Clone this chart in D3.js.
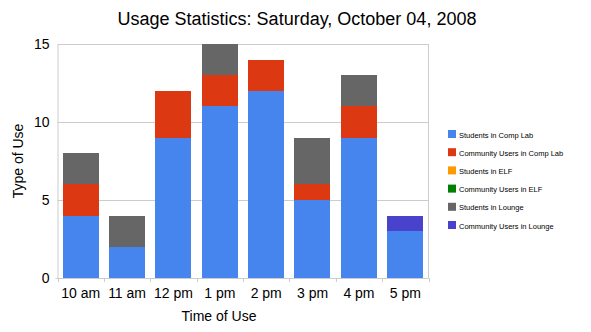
<!DOCTYPE html>
<html>
<head>
<meta charset="utf-8">
<script src="https://cdn.jsdelivr.net/npm/d3@7"></script>
<style>
  body { margin: 0; background: #fff; }
  text { font-family: Arial, "Liberation Sans", sans-serif; fill: #000; }
</style>
</head>
<body>
<svg id="chart" width="591" height="332"></svg>
<script>
const categories = ["10 am", "11 am", "12 pm", "1 pm", "2 pm", "3 pm", "4 pm", "5 pm"];
const seriesNames = ["Students in Comp Lab", "Community Users in Comp Lab", "Students in ELF",
                     "Community Users in ELF", "Students in Lounge", "Community Users in Lounge"];
const seriesColors = ["#4684ee", "#dc3912", "#ff9900", "#008000", "#666666", "#4942cc"];
const studentsCompLab  = [4, 2, 9, 11, 12, 5, 9, 3];
const communityCompLab = [2, 0, 3, 2, 2, 1, 2, 0];
const studentsELF      = [0, 0, 0, 0, 0, 0, 0, 0];
const communityELF     = [0, 0, 0, 0, 0, 0, 0, 0];
const studentsLounge   = [2, 2, 0, 2, 0, 3, 2, 0];
const communityLounge  = [0, 0, 0, 0, 0, 0, 0, 1];
const yTicks = [0, 5, 10, 15];

const seriesValues = [studentsCompLab, communityCompLab, studentsELF, communityELF, studentsLounge, communityLounge];
const rows = categories.map((c, i) => {
  const r = { cat: c };
  seriesNames.forEach((s, j) => r[s] = seriesValues[j][i]);
  return r;
});

const svg = d3.select("#chart");
const m = { left: 57.5, right: 428.5, top: 44, bottom: 278 };

const x = d3.scaleBand().domain(categories).range([m.left, m.right]).paddingInner(0.22).paddingOuter(0.11);
const y = d3.scaleLinear().domain([0, 15]).range([m.bottom, m.top]);

// grid lines
svg.append("g").selectAll("line").data(yTicks.filter(d => d > 0)).join("line")
  .attr("x1", m.left).attr("x2", m.right)
  .attr("y1", d => Math.round(y(d)) + 0.5).attr("y2", d => Math.round(y(d)) + 0.5)
  .attr("stroke", "#cccccc");
svg.append("line").attr("x1", m.right).attr("x2", m.right).attr("y1", m.top).attr("y2", m.bottom)
  .attr("stroke", "#cccccc");

// stacked bars
const stack = d3.stack().keys(seriesNames)(rows);
svg.append("g").selectAll("g").data(stack).join("g")
  .attr("fill", (d, i) => seriesColors[i])
  .selectAll("rect").data(d => d.filter(p => p[1] > p[0])).join("rect")
  .attr("x", p => Math.round(x(p.data.cat)))
  .attr("width", Math.round(x.bandwidth()))
  .attr("y", p => Math.round(y(p[1])))
  .attr("height", p => Math.round(y(p[0])) - Math.round(y(p[1])));

// y axis
const yAxis = d3.axisLeft(y).tickValues(yTicks).tickSize(0).tickPadding(8);
const gy = svg.append("g").attr("transform", `translate(${m.left},0)`).call(yAxis);
gy.select(".domain").attr("stroke", "#cccccc");
gy.selectAll("text").attr("font-size", 14).attr("fill", "#000");

// x axis with ticks at band boundaries
svg.append("line").attr("x1", m.left - 2).attr("x2", m.right).attr("y1", m.bottom + 0.5).attr("y2", m.bottom + 0.5)
  .attr("stroke", "#cccccc");
const bounds = d3.range(categories.length + 1).map(i => m.left + (m.right - m.left) * i / categories.length);
svg.append("g").selectAll("line").data(bounds).join("line")
  .attr("x1", d => Math.round(d) + 0.5).attr("x2", d => Math.round(d) + 0.5)
  .attr("y1", m.bottom).attr("y2", m.bottom + 4)
  .attr("stroke", "#cccccc");
svg.append("g").selectAll("text").data(categories).join("text")
  .attr("x", d => x(d) + x.bandwidth() / 2)
  .attr("y", m.bottom + 20)
  .attr("text-anchor", "middle").attr("font-size", 14)
  .text(d => d);

// titles
svg.append("text").attr("x", 297).attr("y", 25).attr("text-anchor", "middle")
  .attr("font-size", 18).text("Usage Statistics: Saturday, October 04, 2008");
svg.append("text").attr("x", 219).attr("y", 321).attr("text-anchor", "middle")
  .attr("font-size", 14).text("Time of Use");
svg.append("text").attr("transform", "translate(23,161) rotate(-90)").attr("text-anchor", "middle")
  .attr("font-size", 14).text("Type of Use");

// legend
const lg = svg.append("g").selectAll("g").data(seriesNames).join("g")
  .attr("transform", (d, i) => `translate(448,${130 + i * 18.2})`);
lg.append("rect").attr("width", 8).attr("height", 8).attr("fill", (d, i) => seriesColors[i]);
lg.append("text").attr("x", 11).attr("y", 7.5).attr("font-size", 7.5).attr("fill", "#222").text(d => d);
</script>
</body>
</html>
